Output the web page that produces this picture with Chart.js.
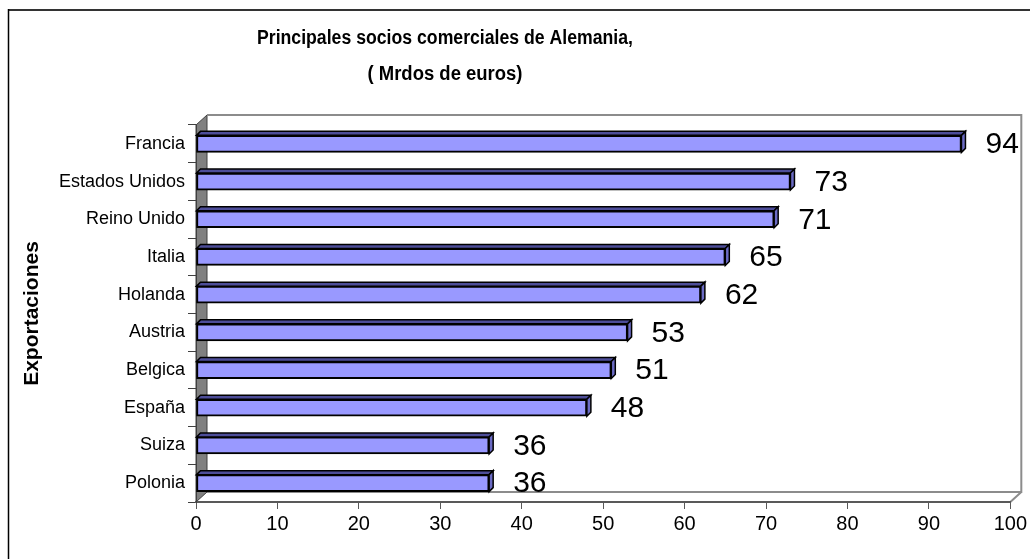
<!DOCTYPE html>
<html>
<head>
<meta charset="utf-8">
<script src="https://cdn.jsdelivr.net/npm/chart.js@4/dist/chart.umd.min.js"></script>
<style>
  html, body { margin: 0; padding: 0; background: #fff; }
  #wrap { width: 1030px; height: 559px; }
</style>
</head>
<body>
<div id="wrap"><canvas id="chart" width="1030" height="559"></canvas></div>
<script>
// chart data
var titleLines = ["Principales socios comerciales de Alemania,", "( Mrdos de euros)"];
var axisTitle = "Exportaciones";
var categories = ["Francia", "Estados Unidos", "Reino Unido", "Italia", "Holanda",
                  "Austria", "Belgica", "España", "Suiza", "Polonia"];
var values = [94, 73, 71, 65, 62, 53, 51, 48, 36, 36];
var xMin = 0, xMax = 100, xStep = 10;

Chart.defaults.font.family = '"Liberation Sans", Arial, sans-serif';
Chart.defaults.color = "#000";

// depth of the 3d walls and of the bars
var DX = 11, DY = -10, BD = 4;

// walls, frame and title, drawn under everything else
var framePlugin = {
    id: "frame3d",
    beforeDraw: function(chart) {
        var ctx = chart.ctx, a = chart.chartArea;
        ctx.save();

        // outer chart border
        ctx.strokeStyle = "#333";
        ctx.lineWidth = 2;
        ctx.beginPath();
        ctx.moveTo(8, 10); ctx.lineTo(1030, 10);
        ctx.stroke();
        ctx.strokeStyle = "#000";
        ctx.lineWidth = 1.5;
        ctx.beginPath();
        ctx.moveTo(8.5, 9); ctx.lineTo(8.5, 559);
        ctx.stroke();

        // title (Excel draws it a bit condensed)
        ctx.fillStyle = "#000";
        ctx.font = 'bold 20px "Liberation Sans", Arial, sans-serif';
        ctx.textAlign = "center";
        ctx.textBaseline = "middle";
        ctx.fillText(titleLines[0], 445, 38, 376);
        ctx.fillText(titleLines[1], 445, 74, 155);

        // left wall
        ctx.fillStyle = "#808080";
        ctx.beginPath();
        ctx.moveTo(a.left, a.top);
        ctx.lineTo(a.left + DX, a.top + DY);
        ctx.lineTo(a.left + DX, a.bottom + DY);
        ctx.lineTo(a.left, a.bottom);
        ctx.closePath();
        ctx.fill();
        ctx.strokeStyle = "#404040";
        ctx.lineWidth = 1;
        ctx.stroke();

        // back wall outline and floor edge
        ctx.strokeStyle = "#8c8c8c";
        ctx.lineWidth = 2;
        ctx.beginPath();
        ctx.moveTo(a.left + DX, a.top + DY);
        ctx.lineTo(a.right + DX, a.top + DY);
        ctx.lineTo(a.right + DX, a.bottom + DY);
        ctx.lineTo(a.left + DX, a.bottom + DY);
        ctx.moveTo(a.right + DX, a.bottom + DY);
        ctx.lineTo(a.right, a.bottom);
        ctx.stroke();
        ctx.restore();
    }
};

// top and side faces of the bars plus the value labels
var barsPlugin = {
    id: "bars3d",
    afterDatasetsDraw: function(chart) {
        var ctx = chart.ctx;
        var meta = chart.getDatasetMeta(0);
        ctx.save();
        ctx.lineWidth = 1.5;
        ctx.strokeStyle = "#000";
        meta.data.forEach(function(el, i) {
            var p = el.getProps(["x", "y", "base", "height"], true);
            var top = p.y - p.height / 2, bottom = p.y + p.height / 2;

            ctx.fillStyle = "#4d4d99";
            ctx.beginPath();
            ctx.moveTo(p.base, top);
            ctx.lineTo(p.base + BD, top - BD);
            ctx.lineTo(p.x + BD, top - BD);
            ctx.lineTo(p.x, top);
            ctx.closePath();
            ctx.fill();
            ctx.stroke();

            ctx.fillStyle = "#6b6bc4";
            ctx.beginPath();
            ctx.moveTo(p.x, top);
            ctx.lineTo(p.x + BD, top - BD);
            ctx.lineTo(p.x + BD, bottom - BD);
            ctx.lineTo(p.x, bottom);
            ctx.closePath();
            ctx.fill();
            ctx.stroke();

            ctx.fillStyle = "#000";
            ctx.font = '30px "Liberation Sans", Arial, sans-serif';
            ctx.textAlign = "left";
            ctx.textBaseline = "middle";
            ctx.fillText(String(values[i]), p.x + 24, p.y + 1);
        });
        ctx.restore();
    }
};

new Chart(document.getElementById("chart"), {
    type: "bar",
    data: {
        labels: categories,
        datasets: [{
            data: values,
            backgroundColor: "#9999ff",
            borderColor: "#000",
            borderWidth: 2,
            borderSkipped: false,
            barThickness: 17
        }]
    },
    options: {
        indexAxis: "y",
        responsive: false,
        animation: false,
        layout: { padding: { top: 125, right: 14, left: 0, bottom: 0 } },
        plugins: {
            legend: { display: false },
            tooltip: { enabled: false },
            title: { display: false }
        },
        scales: {
            x: {
                min: xMin,
                max: xMax,
                afterFit: function(s) { s.height = 57; },
                ticks: { stepSize: xStep, padding: 3, font: { size: 20 }, color: "#000" },
                grid: { drawOnChartArea: false, tickLength: 7, color: "#595959" },
                border: { color: "#595959", width: 2 }
            },
            y: {
                afterFit: function(s) { s.width = 196; },
                ticks: { padding: 3, font: { size: 18 }, color: "#000" },
                grid: { drawOnChartArea: false, offset: true, tickLength: 8, color: "#404040" },
                border: { color: "#404040", width: 1 },
                title: {
                    display: true,
                    text: axisTitle,
                    font: { size: 21, weight: "bold" },
                    color: "#000",
                    padding: { top: 20, bottom: 0 }
                }
            }
        }
    },
    plugins: [framePlugin, barsPlugin]
});
</script>
</body>
</html>
